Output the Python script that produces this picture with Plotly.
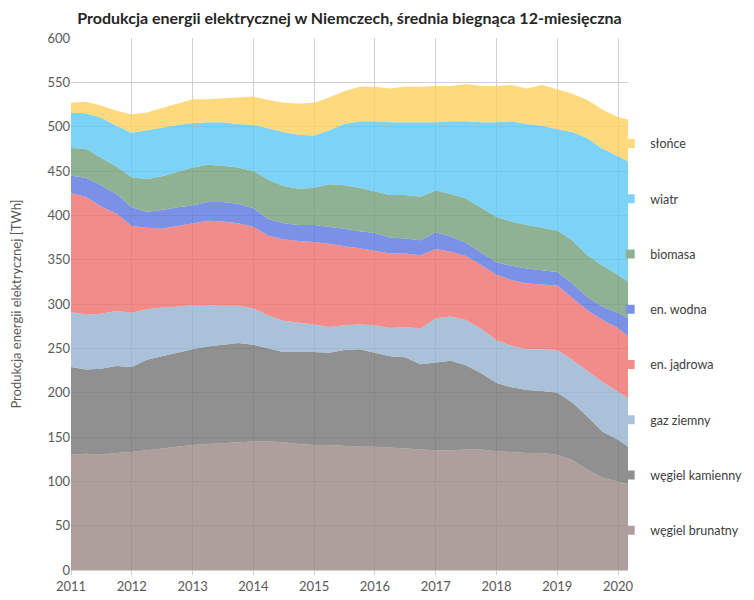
import plotly.graph_objects as go

# quarterly samples of the 12-month running sum (TWh)
dates = [
    "2011-01-01", "2011-04-01", "2011-07-01", "2011-10-01",
    "2012-01-01", "2012-04-01", "2012-07-01", "2012-10-01",
    "2013-01-01", "2013-04-01", "2013-07-01", "2013-10-01",
    "2014-01-01", "2014-04-01", "2014-07-01", "2014-10-01",
    "2015-01-01", "2015-04-01", "2015-07-01", "2015-10-01",
    "2016-01-01", "2016-04-01", "2016-07-01", "2016-10-01",
    "2017-01-01", "2017-04-01", "2017-07-01", "2017-10-01",
    "2018-01-01", "2018-04-01", "2018-07-01", "2018-10-01",
    "2019-01-01", "2019-04-01", "2019-07-01", "2019-10-01",
    "2020-01-01", "2020-03-01",
]

wegiel_brunatny = [130, 131, 130, 132, 133, 135, 137, 139, 141, 142, 143, 144,
                   145, 145, 144, 142, 141, 141, 140, 139, 139, 138, 137, 136,
                   135, 135, 136, 136, 134, 133, 132, 132, 130, 124, 113, 104,
                   100, 97]
wegiel_kamienny = [99, 95, 97, 98, 96, 102, 104, 106, 108, 110, 111, 112,
                   109, 105, 102, 104, 105, 104, 108, 110, 106, 103, 103, 96,
                   99, 101, 95, 86, 77, 73, 71, 70, 70, 65, 60, 52,
                   47, 42]
gaz_ziemny = [62, 62, 62, 62, 61, 57, 55, 52, 50, 47, 44, 42,
              41, 37, 35, 33, 31, 29, 28, 28, 31, 32, 34, 40,
              50, 50, 51, 50, 48, 47, 46, 47, 48, 48, 52, 56,
              54, 55]
en_jadrowa = [134, 133, 121, 110, 98, 92, 89, 91, 92, 95, 95, 93,
              92, 90, 92, 92, 93, 94, 89, 86, 84, 84, 83, 83,
              78, 73, 72, 72, 74, 74, 74, 73, 73, 70, 68, 70,
              72, 70]
en_wodna = [20, 21, 24, 22, 21, 18, 21, 21, 20, 21, 22, 22,
            21, 19, 18, 18, 19, 19, 20, 19, 20, 18, 17, 17,
            19, 17, 15, 14, 14, 16, 17, 16, 15, 16, 15, 15,
            17, 20]
biomasa = [31, 33, 31, 31, 34, 37, 38, 40, 43, 42, 41, 41,
           42, 44, 42, 41, 42, 48, 49, 49, 47, 48, 49, 49,
           47, 48, 50, 50, 51, 50, 49, 48, 47, 49, 47, 46,
           43, 41]
wiatr = [40, 40, 45, 46, 50, 55, 55, 53, 50, 48, 49, 49,
         52, 58, 61, 61, 59, 61, 69, 75, 79, 82, 82, 84,
         77, 82, 87, 97, 107, 113, 114, 115, 114, 122, 132, 132,
         134, 136]
slonce = [11, 13, 14, 17, 21, 20, 22, 24, 27, 26, 27, 30,
          32, 32, 33, 35, 37, 37, 37, 39, 39, 38, 40, 40,
          41, 40, 42, 41, 41, 41, 40, 46, 45, 43, 43, 44,
          44, 47]

# name, values, fill (semi-transparent so gridlines show through), legend swatch
series = [
    ("węgiel brunatny", wegiel_brunatny, "rgba(154,134,131,0.8)", "#AE9E9C"),
    ("węgiel kamienny", wegiel_kamienny, "rgba(116,116,116,0.8)", "#909090"),
    ("gaz ziemny", gaz_ziemny, "rgba(148,177,208,0.8)", "#A9C1D9"),
    ("en. jądrowa", en_jadrowa, "rgba(239,111,109,0.8)", "#F28C8A"),
    ("en. wodna", en_wodna, "rgba(90,117,224,0.8)", "#7B91E6"),
    ("biomasa", biomasa, "rgba(115,159,121,0.8)", "#8FB294"),
    ("wiatr", wiatr, "rgba(93,200,245,0.8)", "#7DD3F7"),
    ("słońce", slonce, "rgba(255,208,93,0.8)", "#FFD97D"),
]

fig = go.Figure()
for name, values, color, swatch in series:
    fig.add_trace(go.Scatter(
        x=dates, y=values, name=name,
        stackgroup="one", mode="lines",
        line=dict(width=0, color=color),
        fillcolor=color,
        showlegend=False,
    ))

# small square legend swatches, słońce on top
for i, (name, values, color, swatch) in enumerate(series):
    fig.add_trace(go.Scatter(
        x=[None], y=[None], name=name, mode="markers",
        marker=dict(symbol="square", size=9, color=swatch),
        legendgroup=name, legendrank=len(series) - i,
    ))

font_family = "Lato, 'Open Sans', sans-serif"

# the page body adds an 8px offset, so the figure is 8px smaller each way
fig.update_layout(
    width=746, height=592,
    paper_bgcolor="white", plot_bgcolor="white",
    margin=dict(l=63, r=126, t=30, b=30, autoexpand=False),
    font=dict(family=font_family, size=13, color="#595959"),
    title=dict(
        text="<b>Produkcja energii elektrycznej w Niemczech, średnia biegnąca 12-miesięczna</b>",
        x=0.5, xref="paper", y=0.982, yanchor="middle",
        font=dict(family=font_family, size=16, color="#262626"),
    ),
    legend=dict(
        x=0.968, xanchor="left", y=0.829, yanchor="top",
        traceorder="grouped", tracegroupgap=36,
        bgcolor="rgba(0,0,0,0)",
        font=dict(family=font_family, size=12.5, color="#404040"),
        itemwidth=30,
    ),
    showlegend=True,
)

fig.update_xaxes(
    type="date",
    range=["2011-01-01", "2020-03-01"],
    dtick="M12", tick0="2011-01-01", tickformat="%Y",
    showgrid=True, gridcolor="#D0D0D0", gridwidth=1,
    showline=True, linecolor="#D0D0D0",
    ticks="outside", tickcolor="#D0D0D0", ticklen=4,
    zeroline=False,
)
fig.update_yaxes(
    range=[0, 600], dtick=50,
    showgrid=True, gridcolor="#D0D0D0", gridwidth=1,
    zeroline=False,
    title=dict(text="Produkcja energii elektrycznej [TWh]", standoff=28,
               font=dict(family=font_family, size=13, color="#595959")),
)

fig.write_html("out.html")
